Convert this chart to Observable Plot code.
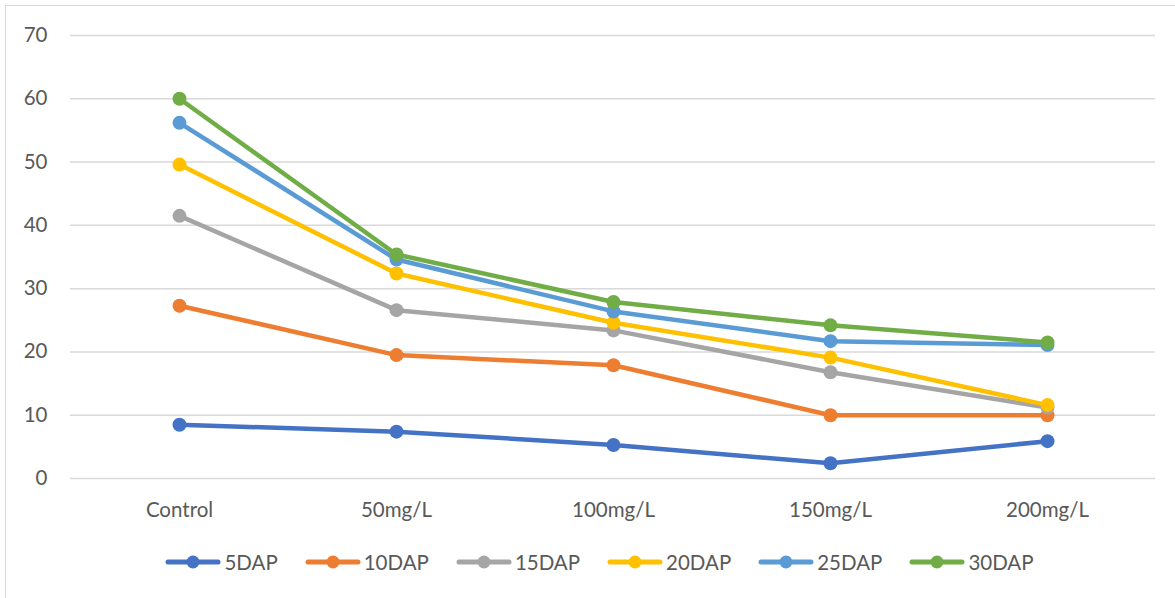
<!DOCTYPE html>
<html>
<head>
<meta charset="utf-8">
<script src="https://cdn.jsdelivr.net/npm/d3@7"></script>
<script src="https://cdn.jsdelivr.net/npm/@observablehq/plot@0.6"></script>
<style>
  html, body { margin: 0; padding: 0; background: #fff; }
  #frame { position: absolute; left: 5px; top: 5px; width: 1175px; height: 600px;
           border-left: 1.5px solid #d9d9d9; border-top: 1.5px solid #d9d9d9; box-sizing: border-box; }
  #chart { position: absolute; left: 6px; top: 6px; }
  #legend { position: absolute; left: 12px; top: 536px; width: 1175px; height: 52px;
            display: flex; justify-content: center; align-items: center; gap: 27px;
            font-family: Lato, "Noto Sans", sans-serif; font-size: 20.5px; color: #595959; }
  .item { display: flex; align-items: center; }
  .item svg { margin-right: 3px; }
</style>
</head>
<body>
<div id="frame"></div>
<div id="chart"></div>
<div id="legend"></div>
<script>
const categories = ["Control", "50mg/L", "100mg/L", "150mg/L", "200mg/L"];
const seriesNames = ["5DAP", "10DAP", "15DAP", "20DAP", "25DAP", "30DAP"];
const colors = ["#4472C4", "#ED7D31", "#A5A5A5", "#FFC000", "#5B9BD5", "#70AD47"];
const v5DAP  = [8.5, 7.4, 5.3, 2.4, 5.9];
const v10DAP = [27.3, 19.5, 17.9, 10.0, 10.0];
const v15DAP = [41.5, 26.6, 23.4, 16.8, 11.2];
const v20DAP = [49.6, 32.4, 24.6, 19.1, 11.6];
const v25DAP = [56.2, 34.6, 26.4, 21.7, 21.1];
const v30DAP = [60.0, 35.4, 27.9, 24.2, 21.5];
const yTicks = [0, 10, 20, 30, 40, 50, 60, 70];

const seriesValues = [v5DAP, v10DAP, v15DAP, v20DAP, v25DAP, v30DAP];
const data = seriesNames.flatMap((s, i) =>
  categories.map((c, j) => ({series: s, category: c, value: seriesValues[i][j]})));

const seriesMarks = seriesNames.flatMap((s, i) => {
  const d = data.filter(r => r.series === s);
  return [
    Plot.line(d, {x: "category", y: "value", stroke: colors[i], strokeWidth: 4.5, strokeLinecap: "round", strokeLinejoin: "round"}),
    Plot.dot(d, {x: "category", y: "value", fill: colors[i], r: 7})
  ];
});

const chart = Plot.plot({
  width: 1169,
  height: 530,
  marginLeft: 64,
  marginRight: 20,
  marginTop: 29,
  marginBottom: 58,
  style: {fontFamily: "Lato, 'Noto Sans', sans-serif", fontSize: "20.5px", color: "#595959", background: "transparent"},
  x: {type: "point", domain: categories, padding: 0.5, label: null},
  y: {domain: [0, 70], label: null},
  marks: [
    Plot.ruleY(yTicks, {stroke: "#d9d9d9", strokeWidth: 1.5}),
    Plot.axisY({ticks: yTicks, tickSize: 0, tickPadding: 23, label: null, fill: "#595959"}),
    Plot.axisX({tickSize: 0, tickPadding: 24, label: null, fill: "#595959"}),
    ...seriesMarks
  ]
});
document.getElementById("chart").appendChild(chart);

const legend = d3.select("#legend");
seriesNames.forEach((s, i) => {
  const item = legend.append("div").attr("class", "item");
  const svg = item.append("svg").attr("width", 56).attr("height", 16);
  svg.append("line").attr("x1", 3).attr("x2", 53).attr("y1", 8).attr("y2", 8)
    .attr("stroke", colors[i]).attr("stroke-width", 5).attr("stroke-linecap", "round");
  svg.append("circle").attr("cx", 28).attr("cy", 8).attr("r", 6.5).attr("fill", colors[i]);
  item.append("span").text(s);
});
</script>
</body>
</html>
